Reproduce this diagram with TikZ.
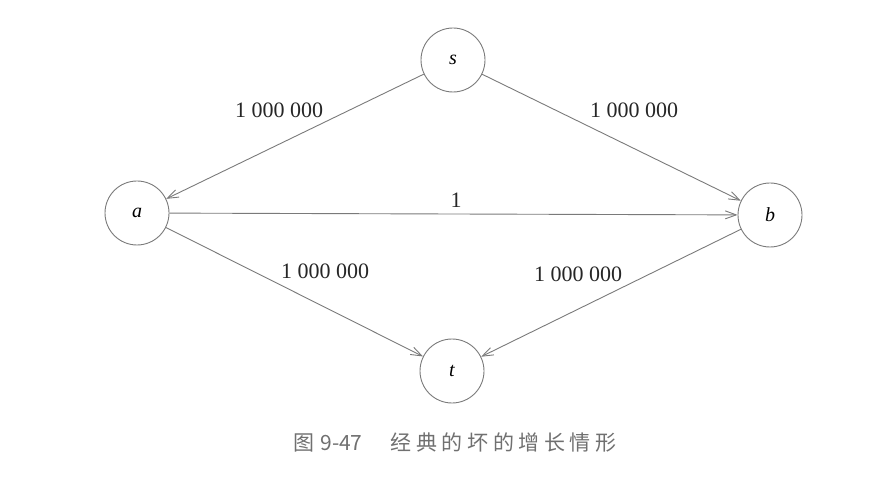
\documentclass[tikz,border=0pt]{standalone}
\usepackage{fontspec}
\setmainfont{Liberation Serif}
\newfontfamily\cjk[LetterSpace=22]{Noto Sans CJK SC}
\newfontfamily\cjkplain{Noto Sans CJK SC}
\usetikzlibrary{arrows.meta}
\definecolor{edgegray}{HTML}{7A7A7A}
\definecolor{capgray}{HTML}{707070}
\begin{document}
\begin{tikzpicture}[x=1pt,y=-1pt,
  vtx/.style={circle,draw=edgegray,line width=0.9pt,minimum size=64pt,inner sep=0pt,font=\fontsize{20}{24}\selectfont\itshape},
  edge/.style={draw=edgegray,line width=0.9pt,-{Straight Barb[length=11pt,width=8pt]}},
  lbl/.style={font=\fontsize{22}{26}\selectfont,text=black!85}]
\useasboundingbox (0,0) rectangle (870,478);
\node[vtx] (s) at (453,60) {s};
\node[vtx] (a) at (137,213) {a};
\node[vtx] (b) at (770,215) {b};
\node[vtx] (t) at (452,371) {t};
\draw[edge] (s) -- (a);
\draw[edge] (s) -- (b);
\draw[edge] (a) -- (b);
\draw[edge] (a) -- (t);
\draw[edge] (b) -- (t);
\node[lbl] (l1) at (279,110) {1 000 000};
\node[lbl] (l2) at (634,110) {1 000 000};
\node[lbl] (l3) at (456,200) {1};
\node[lbl] (l4) at (325,271) {1 000 000};
\node[lbl] (l5) at (578,274) {1 000 000};
\node[font=\fontsize{21}{24}\selectfont,text=capgray] (cap) at (455,443) {{\cjkplain 图\hspace{6pt}9-47}\hspace{28pt}{\cjk 经典的坏的增长情形}};
\end{tikzpicture}
\end{document}
